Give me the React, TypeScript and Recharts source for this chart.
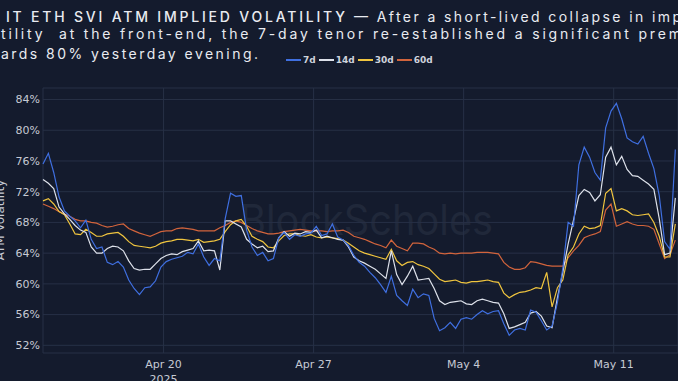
import { LineChart, Line, XAxis, YAxis, CartesianGrid, Legend } from "recharts";

// 6-hourly samples, Apr 14 09:00 UTC -> May 14
const START = Date.UTC(2025, 3, 14, 9);
const END = Date.UTC(2025, 4, 14, 0);
const STEP = 6 * 3600 * 1000;

const vol7d = [
  75.6, 77.0, 74.5, 71.3, 69.5, 68.8, 68.2, 67.3, 68.3, 65.8,
  64.6, 64.8, 62.8, 62.5, 62.9, 62.2, 60.5, 59.4, 58.6, 59.5,
  59.6, 60.4, 62.2, 62.9, 63.2, 63.4, 63.6, 64.1, 63.9, 65.2,
  63.5, 62.4, 63.3, 63.0, 68.5, 71.8, 71.4, 71.5, 67.0, 64.8,
  63.7, 64.1, 63.0, 63.3, 66.0, 66.7, 65.8, 66.4, 66.2, 66.5,
  66.6, 67.5, 66.3, 66.5, 67.8, 66.1, 65.7, 65.0, 63.7, 62.8,
  62.3, 61.5, 60.8, 59.9, 58.9, 61.0, 58.5, 57.8, 57.2, 59.3,
  58.2, 58.7, 58.5, 55.5, 53.9, 54.3, 55.0, 54.2, 55.4, 55.6,
  55.4, 56.0, 56.5, 56.1, 56.4, 56.5, 54.8, 53.3, 54.0, 54.2,
  54.0, 56.6, 56.3, 55.2, 54.0, 54.5, 57.6, 62.0, 68.0, 67.5,
  75.5, 77.8, 76.5, 74.5, 73.5, 80.3, 82.5, 83.5, 81.5, 79.0,
  78.5, 78.2, 79.2, 77.0, 75.0, 71.5, 65.5, 64.5, 77.5,
];

const vol14d = [
  73.6, 73.1, 72.4, 70.0, 69.1, 68.4, 67.6, 67.0, 66.7, 64.8,
  64.0, 64.0, 64.6, 64.9, 64.8, 64.3, 63.0, 62.0, 61.8, 61.9,
  61.9, 62.6, 63.3, 63.7, 63.9, 63.8, 64.2, 64.4, 64.6, 65.6,
  64.3, 64.4, 64.3, 61.8, 68.2, 68.2, 67.8, 67.4, 65.8, 65.2,
  64.7, 64.9, 64.2, 64.3, 66.0, 66.8, 66.2, 66.6, 66.5, 66.8,
  66.7, 67.0, 66.0, 66.2, 66.0, 65.8, 65.7, 64.8, 63.5, 63.0,
  62.7, 62.3, 61.9, 61.3, 60.7, 64.3, 61.2, 59.9, 61.0, 62.3,
  60.5, 60.6, 60.7, 59.4, 57.8, 57.3, 57.6, 57.7, 57.8, 57.4,
  57.3, 57.8, 58.0, 57.8, 57.6, 57.5, 56.1, 54.2, 54.4, 54.7,
  55.0, 56.2, 56.4, 55.8, 54.5, 54.3, 58.2, 61.5, 65.2, 68.3,
  71.5, 72.3, 71.9, 70.8, 71.6, 76.5, 77.8, 75.5, 76.6, 74.9,
  74.1, 74.0, 73.5, 73.0, 72.3, 68.5, 63.8, 64.0, 71.2,
];

const vol30d = [
  70.8, 71.1, 70.4, 69.4, 69.0, 67.8, 66.5, 66.4, 67.1, 66.7,
  66.2, 66.2, 66.5, 66.6, 66.7, 66.2, 65.5, 65.0, 64.9, 64.8,
  64.7, 64.9, 65.3, 65.5, 65.6, 65.8, 65.8, 65.7, 65.6, 65.8,
  65.4, 65.5, 65.6, 65.8, 66.8, 67.7, 68.2, 68.4, 67.5, 66.2,
  65.8, 65.5, 64.8, 64.7, 65.6, 66.3, 66.5, 66.5, 66.3, 66.2,
  66.4, 66.1, 66.0, 66.1, 66.0, 65.9, 65.7, 65.3, 64.8, 64.3,
  64.0, 63.8, 63.6, 63.4, 63.2, 64.5, 63.0, 62.4, 62.8, 62.9,
  62.5, 62.3, 62.0, 61.3, 60.6, 60.3, 60.4, 60.5, 60.2, 60.1,
  60.3, 60.3, 60.4, 60.5, 60.3, 60.2, 58.8, 58.2, 58.6, 58.9,
  59.0, 59.2, 59.5, 59.4, 61.5, 57.0, 59.5, 60.5, 63.8, 64.8,
  66.5, 67.5, 67.2, 67.3, 67.6, 71.8, 72.4, 69.5, 69.8, 69.5,
  69.0, 68.9, 69.0, 69.1, 68.0, 66.2, 63.5, 63.5, 67.8,
];

const vol60d = [
  70.4, 70.1, 69.8, 69.4, 69.1, 68.8, 68.4, 68.2, 68.2, 68.0,
  67.9, 67.6, 67.4, 67.5, 67.7, 67.8, 67.2, 66.9, 66.6, 66.4,
  66.2, 66.5, 66.8, 66.9, 66.9, 67.2, 67.3, 67.2, 67.1, 66.9,
  66.9, 66.9, 66.9, 67.3, 67.6, 68.0, 68.2, 68.0, 67.6, 67.2,
  66.9, 66.7, 66.5, 66.5, 66.6, 66.8, 66.9, 67.0, 67.1, 67.0,
  66.9, 66.9, 66.9, 66.8, 66.9, 66.9, 67.0, 66.7, 66.2, 66.0,
  65.8, 65.5, 65.2, 65.0, 64.7, 65.7, 64.9, 64.6, 64.3, 65.3,
  65.3, 65.2, 64.8, 64.5, 64.0, 63.9, 64.0, 63.9, 64.0, 64.0,
  64.0, 64.1, 64.1, 64.1, 64.0, 63.9, 62.8, 62.2, 61.9, 61.9,
  62.1, 62.9, 62.8, 62.6, 62.4, 62.3, 62.3, 62.3, 63.4, 64.3,
  65.0, 66.0, 66.3, 66.5, 66.8, 69.6, 70.4, 67.5, 67.8, 68.1,
  67.8, 67.6, 67.6, 67.5, 67.1, 65.2, 63.3, 63.8, 65.7,
];

const seriesNames = ["7d", "14d", "30d", "60d"];
const seriesColors = ["#3f6fe0", "#dde1ea", "#f0c53f", "#d2643c"];

const xTicks = [
  Date.UTC(2025, 3, 20),
  Date.UTC(2025, 3, 27),
  Date.UTC(2025, 4, 4),
  Date.UTC(2025, 4, 11),
];
const yTicks = [52, 56, 60, 64, 68, 72, 76, 80, 84];
const MONTHS = ["Jan", "Feb", "Mar", "Apr", "May", "Jun", "Jul", "Aug", "Sep", "Oct", "Nov", "Dec"];

const data = vol7d.map((v, i) => ({
  t: START + i * STEP,
  d7: v,
  d14: vol14d[i],
  d30: vol30d[i],
  d60: vol60d[i],
}));

const BG = "#141b2d";
const GRID = "#273046";
const TICK = "#c6cad4";

function DateTick({ x, y, payload }: any) {
  const d = new Date(payload.value);
  const label = `${MONTHS[d.getUTCMonth()]} ${d.getUTCDate()}`;
  return (
    <g fontFamily="DejaVu Sans" fontSize={11} fill={TICK}>
      <text x={x} y={y + 15} textAnchor="middle">
        {label}
      </text>
      {payload.value === xTicks[0] && (
        <text x={x} y={y + 30} textAnchor="middle">
          {d.getUTCFullYear()}
        </text>
      )}
    </g>
  );
}

function LegendRow({ payload }: any) {
  // keep the series order (recharts sorts the payload by name)
  const items = [...(payload || [])].sort(
    (a: any, b: any) => seriesNames.indexOf(a.value) - seriesNames.indexOf(b.value)
  );
  return (
    <div
      style={{
        display: "flex",
        alignItems: "center",
        fontFamily: "DejaVu Sans",
        fontWeight: "bold",
        fontSize: 9,
        color: "#cfd3dc",
        whiteSpace: "nowrap",
      }}
    >
      {items.map((e: any) => (
        <span key={e.value} style={{ display: "flex", alignItems: "center", marginRight: 3 }}>
          <span style={{ width: 15, height: 1.5, background: e.color, marginRight: 2 }} />
          {e.value}
        </span>
      ))}
    </div>
  );
}

const keys = ["d7", "d14", "d30", "d60"];

export default function App() {
  return (
    <div
      style={{
        position: "fixed",
        left: 0,
        top: 0,
        width: 678,
        height: 381,
        overflow: "hidden",
        background: BG,
      }}
    >
      {/* watermark behind the lines */}
      <svg width={678} height={381} style={{ position: "absolute", left: 0, top: 0 }}>
        <text
          x={240}
          y={235}
          fontFamily="Inter"
          fontSize={42}
          fill="#20283a"
          textLength={253}
          lengthAdjust="spacingAndGlyphs"
        >
          BlockScholes
        </text>
      </svg>

      <div style={{ position: "absolute", left: 0, top: 0 }}>
        <LineChart width={678} height={381} data={data} margin={{ top: 88, right: 0, bottom: 0, left: 0 }}>
          <CartesianGrid stroke={GRID} strokeWidth={1} />
          <XAxis
            dataKey="t"
            type="number"
            scale="time"
            domain={[START, END]}
            ticks={xTicks}
            axisLine={false}
            tickLine={false}
            tickSize={0}
            tickMargin={0}
            height={28}
            tick={<DateTick />}
            interval={0}
          />
          <YAxis
            domain={[51, 85.5]}
            ticks={yTicks}
            width={43}
            axisLine={false}
            tickLine={false}
            tickSize={0}
            tickMargin={3}
            tickFormatter={(v: number) => `${v}%`}
            tick={{ fill: TICK, fontSize: 11, fontFamily: "DejaVu Sans" }}
            allowDataOverflow
          />
          <Legend
            layout="vertical"
            align="center"
            verticalAlign="middle"
            content={<LegendRow />}
            wrapperStyle={{ top: 55, left: 286, width: 180, height: 14 }}
          />
          {/* longer tenors first so the 7d line sits on top */}
          {[3, 2, 1, 0].map((i) => (
            <Line
              key={keys[i]}
              type="linear"
              dataKey={keys[i]}
              name={seriesNames[i]}
              stroke={seriesColors[i]}
              strokeWidth={1.2}
              dot={false}
              isAnimationActive={false}
            />
          ))}
        </LineChart>
      </div>

      {/* title block + rotated axis title */}
      <svg width={678} height={381} style={{ position: "absolute", left: 0, top: 0, pointerEvents: "none" }}>
        <g fontFamily="Inter" fill="#e9ebf1">
          <text x={6} y={22} fontSize={14} fontWeight={500} textLength={339} lengthAdjust="spacing">
            IT ETH SVI ATM IMPLIED VOLATILITY
          </text>
          <text x={354} y={22} fontSize={14} textLength={327} lengthAdjust="spacing">
            — After a short-lived collapse in imp
          </text>
          <text x={1} y={39} fontSize={14} textLength={680} lengthAdjust="spacing" style={{ whiteSpace: "pre" }}>
            tility  at the front-end, the 7-day tenor re-established a significant prem
          </text>
          <text x={1} y={59} fontSize={14} textLength={257} lengthAdjust="spacing">
            ards 80% yesterday evening.
          </text>
        </g>
        <text
          transform="translate(4,220) rotate(-90)"
          textAnchor="middle"
          fontFamily="DejaVu Sans"
          fontSize={12}
          fill={TICK}
        >
          ATM Volatility
        </text>
      </svg>
    </div>
  );
}
